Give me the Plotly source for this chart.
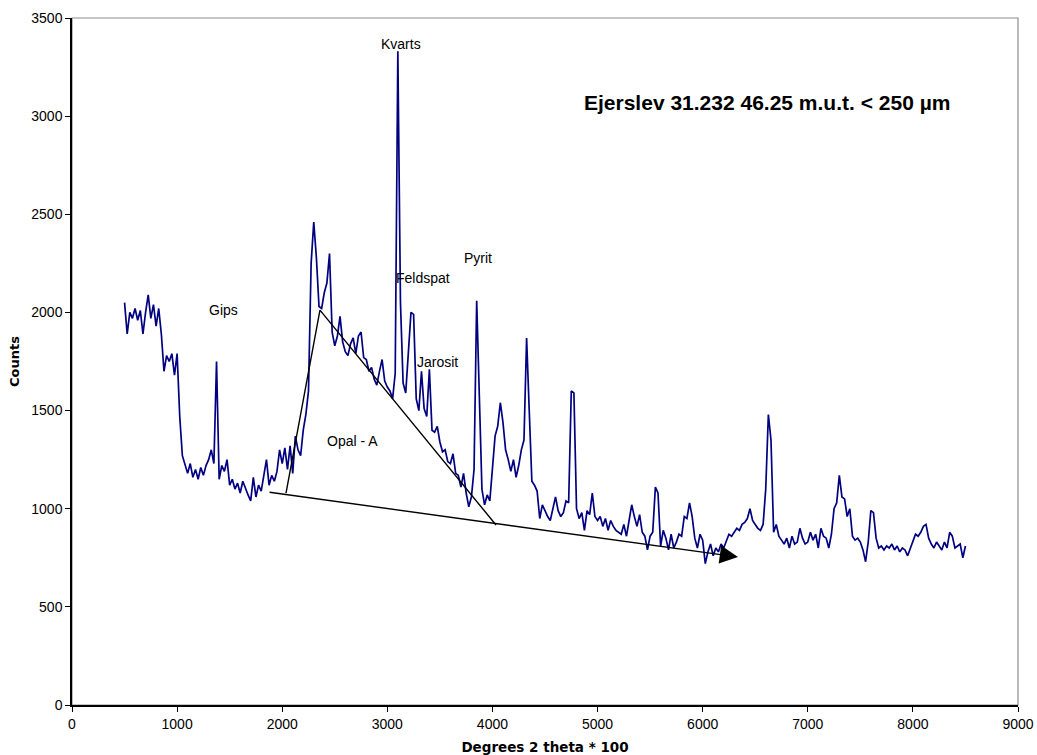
import plotly.graph_objects as go

# ---- data ----
x_start = 500
x_step = 25
counts = [
    # 500-975
    2050, 1890, 2000, 1970, 2020, 1960, 2010, 1890, 2000, 2090, 1970, 2040, 1930, 2020, 1890, 1700, 1780, 1750, 1790, 1680,
    # 1000-1475
    1790, 1470, 1270, 1220, 1180, 1230, 1160, 1200, 1150, 1210, 1170, 1220, 1250, 1300, 1230, 1750, 1150, 1220, 1190, 1250,
    # 1500-1975
    1120, 1150, 1100, 1130, 1080, 1140, 1100, 1070, 1040, 1160, 1060, 1120, 1090, 1180, 1250, 1120, 1170, 1140, 1190, 1300,
    # 2000-2475
    1230, 1310, 1200, 1320, 1180, 1370, 1300, 1270, 1400, 1480, 1600, 2250, 2460, 2280, 2030, 2020, 2100, 2150, 2300, 1900,
    # 2500-2975
    1830, 1880, 1980, 1850, 1800, 1780, 1840, 1870, 1790, 1880, 1900, 1770, 1760, 1700, 1720, 1660, 1630, 1700, 1760, 1650,
    # 3000-3475
    1620, 1600, 1560, 1690, 3330, 2050, 1640, 1590, 1800, 2000, 1990, 1560, 1500, 1700, 1510, 1470, 1710, 1400, 1390, 1420,
    # 3500-3975
    1340, 1290, 1300, 1240, 1230, 1280, 1180, 1170, 1110, 1180, 1080, 1010, 1060, 1200, 2060, 1500, 1100, 1020, 1070, 1040,
    # 4000-4475
    1200, 1370, 1420, 1540, 1440, 1300, 1250, 1190, 1250, 1160, 1220, 1300, 1350, 1870, 1500, 1140, 1120, 1090, 950, 1020,
    # 4500-4975
    990, 960, 940, 1000, 1060, 990, 960, 980, 1040, 1030, 1600, 1590, 1000, 950, 980, 890, 990, 970, 1080, 960,
    # 5000-5475
    940, 960, 910, 950, 890, 940, 910, 890, 880, 870, 920, 860, 940, 1020, 960, 910, 970, 880, 860, 790,
    # 5500-5975
    860, 880, 1110, 1080, 810, 890, 850, 790, 870, 800, 830, 870, 860, 960, 950, 1030, 960, 850, 800, 870,
    # 6000-6475
    840, 720, 780, 820, 760, 800, 780, 820, 800, 840, 870, 860, 880, 900, 890, 920, 930, 950, 1000, 940,
    # 6500-6975
    920, 900, 890, 920, 1100, 1480, 1350, 880, 920, 860, 840, 820, 850, 800, 860, 820, 830, 900, 850, 820,
    # 7000-7475
    830, 880, 840, 870, 800, 900, 860, 850, 800, 870, 1000, 1030, 1170, 1060, 1050, 960, 1000, 860, 840, 850,
    # 7500-7975
    830, 790, 730, 830, 990, 980, 850, 800, 810, 790, 810, 800, 820, 790, 810, 780, 800, 790, 760, 800,
    # 8000-8500
    830, 870, 860, 880, 910, 920, 850, 820, 800, 830, 810, 790, 830, 800, 880, 860, 800, 810, 820, 750, 810,
]
two_theta = [x_start + i * x_step for i in range(len(counts))]

# Opal-A hump outline and background arrow (data coordinates)
opal_x = [2036, 2359, 4034]
opal_y = [1080, 2012, 917]
base_start = (1865, 1085)
base_end = (6336, 754)

labels = ["Kvarts", "Feldspat", "Pyrit", "Jarosit", "Gips", "Opal - A"]
label_x = [3130, 3339, 3863, 3473, 1446, 2664]
label_y = [3368, 2175, 2277, 1747, 2012, 1345]

title_text = "Ejerslev 31.232 46.25 m.u.t. < 250 µm"

x_ticks = list(range(0, 9001, 1000))
y_ticks = list(range(0, 3501, 500))

# ---- figure ----
fig = go.Figure()
fig.add_trace(go.Scatter(
    x=two_theta, y=counts, mode="lines",
    line=dict(color="#000080", width=1.7),
    hoverinfo="skip", showlegend=False,
))
fig.add_trace(go.Scatter(
    x=opal_x, y=opal_y, mode="lines",
    line=dict(color="black", width=1.4),
    hoverinfo="skip", showlegend=False,
))

fig.add_annotation(
    x=base_end[0], y=base_end[1], ax=base_start[0], ay=base_start[1],
    xref="x", yref="y", axref="x", ayref="y",
    showarrow=True, arrowhead=2, arrowsize=2.6, arrowwidth=1.4,
    arrowcolor="black", text="",
)

for t, lx, ly in zip(labels, label_x, label_y):
    fig.add_annotation(
        x=lx, y=ly, text=t, showarrow=False,
        font=dict(family="Liberation Sans, Arial, sans-serif", size=14, color="black"),
        xanchor="center", yanchor="middle",
    )

fig.add_annotation(
    x=6612, y=3072, text="<b>" + title_text + "</b>", showarrow=False,
    font=dict(family="Liberation Sans, Arial, sans-serif", size=21, color="black"),
    xanchor="center", yanchor="middle",
)

# gray plot-area frame (top/right)
fig.add_shape(
    type="rect", xref="paper", yref="paper", x0=0, y0=0, x1=1, y1=1,
    line=dict(color="#8c8c8c", width=1.2), layer="below",
)

fig.update_layout(
    width=1037, height=755,
    margin=dict(l=72, r=19, t=18, b=50),
    paper_bgcolor="white", plot_bgcolor="white",
    font=dict(family="Liberation Sans, Arial, sans-serif", size=14, color="black"),
    showlegend=False,
)
fig.update_xaxes(
    range=[0, 9000], tickvals=x_ticks, ticktext=[str(v) for v in x_ticks],
    automargin=False,
    showgrid=False, zeroline=False,
    showline=True, linecolor="black", linewidth=1.5,
    ticks="outside", ticklen=5, tickcolor="black", tickwidth=1,
    tickfont=dict(size=14),
    title=dict(text="<b>Degrees 2 theta * 100</b>",
               font=dict(family="DejaVu Sans, Verdana, sans-serif", size=13.5), standoff=13),
)
fig.update_yaxes(
    range=[0, 3500], tickvals=y_ticks, ticktext=[str(v) for v in y_ticks],
    automargin=False,
    showgrid=False, zeroline=False,
    showline=True, linecolor="black", linewidth=1.5,
    ticks="outside", ticklen=5, tickcolor="black", tickwidth=1,
    tickfont=dict(size=14),
    title=dict(text="<b>Counts</b>",
               font=dict(family="DejaVu Sans, Verdana, sans-serif", size=13), standoff=9),
)

fig.write_html("out.html")
